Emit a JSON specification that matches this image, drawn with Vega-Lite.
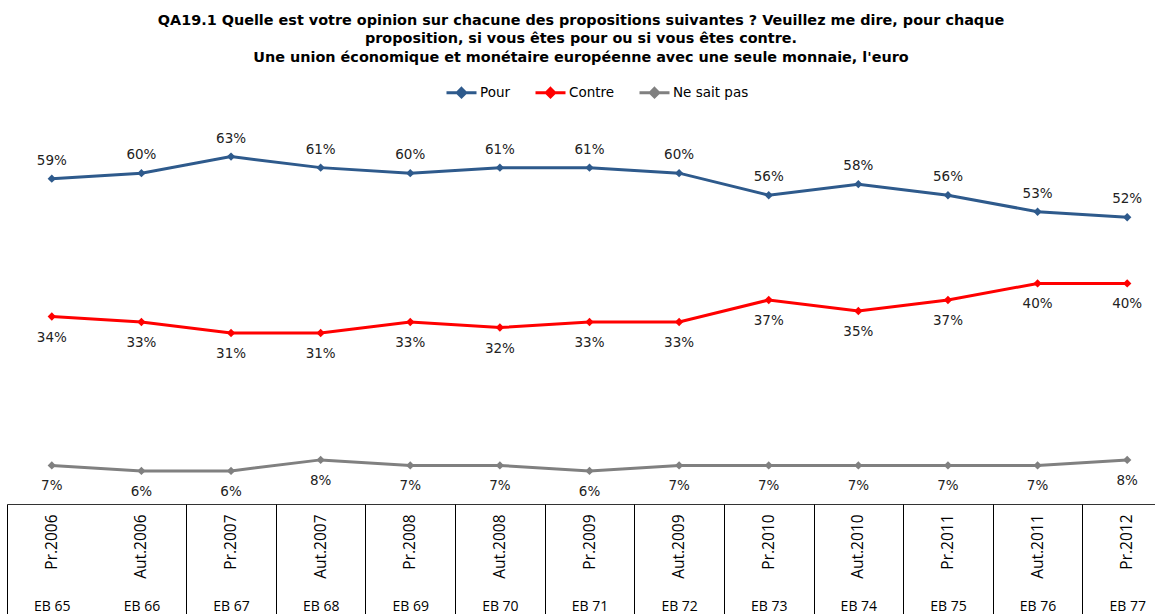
{
  "$schema": "https://vega.github.io/schema/vega-lite/v6.json",
  "width": 1148,
  "height": 386,
  "autosize": {"type": "none"},
  "padding": {"left": 7, "top": 118, "right": 0, "bottom": 110},
  "background": "white",
  "config": {"view": {"stroke": null}},
  "title": {
    "text": [
      "QA19.1 Quelle est votre opinion sur chacune des propositions suivantes ? Veuillez me dire, pour chaque",
      "proposition, si vous êtes pour ou si vous êtes contre.",
      "Une union économique et monétaire européenne avec une seule monnaie, l'euro"
    ],
    "font": "DejaVu Sans",
    "fontSize": 14.4,
    "fontWeight": "bold",
    "color": "#000000",
    "anchor": "middle",
    "lineHeight": 18.5,
    "offset": 11
  },
  "data": {
    "values": [
      {"k": "Pr.2006|EB 65", "s": "Pour", "v": 0.59},
      {"k": "Aut.2006|EB 66", "s": "Pour", "v": 0.60},
      {"k": "Pr.2007|EB 67", "s": "Pour", "v": 0.63},
      {"k": "Aut.2007|EB 68", "s": "Pour", "v": 0.61},
      {"k": "Pr.2008|EB 69", "s": "Pour", "v": 0.60},
      {"k": "Aut.2008|EB 70", "s": "Pour", "v": 0.61},
      {"k": "Pr.2009|EB 71", "s": "Pour", "v": 0.61},
      {"k": "Aut.2009|EB 72", "s": "Pour", "v": 0.60},
      {"k": "Pr.2010|EB 73", "s": "Pour", "v": 0.56},
      {"k": "Aut.2010|EB 74", "s": "Pour", "v": 0.58},
      {"k": "Pr.2011|EB 75", "s": "Pour", "v": 0.56},
      {"k": "Aut.2011|EB 76", "s": "Pour", "v": 0.53},
      {"k": "Pr.2012|EB 77", "s": "Pour", "v": 0.52},
      {"k": "Pr.2006|EB 65", "s": "Contre", "v": 0.34},
      {"k": "Aut.2006|EB 66", "s": "Contre", "v": 0.33},
      {"k": "Pr.2007|EB 67", "s": "Contre", "v": 0.31},
      {"k": "Aut.2007|EB 68", "s": "Contre", "v": 0.31},
      {"k": "Pr.2008|EB 69", "s": "Contre", "v": 0.33},
      {"k": "Aut.2008|EB 70", "s": "Contre", "v": 0.32},
      {"k": "Pr.2009|EB 71", "s": "Contre", "v": 0.33},
      {"k": "Aut.2009|EB 72", "s": "Contre", "v": 0.33},
      {"k": "Pr.2010|EB 73", "s": "Contre", "v": 0.37},
      {"k": "Aut.2010|EB 74", "s": "Contre", "v": 0.35},
      {"k": "Pr.2011|EB 75", "s": "Contre", "v": 0.37},
      {"k": "Aut.2011|EB 76", "s": "Contre", "v": 0.40},
      {"k": "Pr.2012|EB 77", "s": "Contre", "v": 0.40},
      {"k": "Pr.2006|EB 65", "s": "Ne sait pas", "v": 0.07},
      {"k": "Aut.2006|EB 66", "s": "Ne sait pas", "v": 0.06},
      {"k": "Pr.2007|EB 67", "s": "Ne sait pas", "v": 0.06},
      {"k": "Aut.2007|EB 68", "s": "Ne sait pas", "v": 0.08},
      {"k": "Pr.2008|EB 69", "s": "Ne sait pas", "v": 0.07},
      {"k": "Aut.2008|EB 70", "s": "Ne sait pas", "v": 0.07},
      {"k": "Pr.2009|EB 71", "s": "Ne sait pas", "v": 0.06},
      {"k": "Aut.2009|EB 72", "s": "Ne sait pas", "v": 0.07},
      {"k": "Pr.2010|EB 73", "s": "Ne sait pas", "v": 0.07},
      {"k": "Aut.2010|EB 74", "s": "Ne sait pas", "v": 0.07},
      {"k": "Pr.2011|EB 75", "s": "Ne sait pas", "v": 0.07},
      {"k": "Aut.2011|EB 76", "s": "Ne sait pas", "v": 0.07},
      {"k": "Pr.2012|EB 77", "s": "Ne sait pas", "v": 0.08}
    ]
  },
  "layer": [
    {
      "mark": {"type": "line", "strokeWidth": 3, "point": {"shape": "diamond", "size": 70, "filled": true}},
      "encoding": {
        "x": {
          "field": "k", "type": "nominal", "sort": null,
          "scale": {"type": "band", "range": [0, 1165], "paddingInner": 0, "paddingOuter": 0},
          "axis": {
            "title": null, "orient": "bottom", "domain": true, "domainColor": "#333333", "domainWidth": 1,
            "ticks": false, "tickSize": 0, "grid": false,
            "labelExpr": "split(datum.value, '|')[0]",
            "labelAngle": 270, "labelAlign": "right", "labelBaseline": "middle",
            "labelPadding": 10, "labelFont": "Open Sans", "labelFontSize": 15.5, "labelColor": "#000000",
            "labelOverlap": false, "labelBound": false
          }
        },
        "y": {"field": "v", "type": "quantitative", "scale": {"domain": [0, 0.7], "nice": false, "zero": true}, "axis": null},
        "color": {
          "field": "s", "type": "nominal",
          "scale": {"domain": ["Pour", "Contre", "Ne sait pas"], "range": ["#2E5A8C", "#FF0000", "#808080"]},
          "legend": {
            "title": null, "orient": "none", "direction": "horizontal",
            "legendX": 438, "legendY": -42,
            "symbolType": "M-1,0L1,0M0,-0.28L0.28,0L0,0.28L-0.28,0Z",
            "symbolSize": 900, "symbolStrokeWidth": 3,
            "labelFont": "DejaVu Sans", "labelFontSize": 13.5, "labelColor": "#000000",
            "labelOffset": 2, "columnPadding": 18,
            "encode": {"symbols": {"update": {"fill": {"scale": "color", "field": "value"}, "stroke": {"scale": "color", "field": "value"}}}}
          }
        }
      }
    },
    {
      "transform": [{"filter": "datum.s === 'Pour'"}],
      "mark": {"type": "text", "dy": -18, "font": "DejaVu Sans", "fontSize": 13.5, "color": "#222222", "baseline": "middle"},
      "encoding": {
        "x": {
          "field": "k", "type": "nominal", "sort": null,
          "scale": {"type": "band", "range": [0, 1165], "paddingInner": 0, "paddingOuter": 0},
          "axis": {
            "title": null, "orient": "bottom", "domain": false, "grid": false,
            "ticks": true, "tickBand": "extent", "tickSize": 110, "tickWidth": 1,
            "tickColor": {"condition": {"test": "datum.value === 'Pr.2006|EB 65' && !datum.extra", "value": "transparent"}, "value": "#000000"},
            "labelExpr": "split(datum.value, '|')[1]",
            "labelAngle": 0, "labelAlign": "center", "labelBaseline": "alphabetic",
            "labelPadding": -4, "labelFont": "Open Sans", "labelFontSize": 14, "labelColor": "#000000",
            "labelOverlap": false, "labelBound": false
          }
        },
        "y": {"field": "v", "type": "quantitative", "scale": {"domain": [0, 0.7], "nice": false, "zero": true}, "axis": null},
        "text": {"field": "v", "type": "quantitative", "format": ".0%"}
      }
    },
    {
      "transform": [{"filter": "datum.s !== 'Pour'"}],
      "mark": {"type": "text", "dy": 21, "font": "DejaVu Sans", "fontSize": 13.5, "color": "#222222", "baseline": "middle"},
      "encoding": {
        "x": {
          "field": "k", "type": "nominal", "sort": null,
          "scale": {"type": "band", "range": [0, 1165], "paddingInner": 0, "paddingOuter": 0},
          "axis": null
        },
        "y": {"field": "v", "type": "quantitative", "scale": {"domain": [0, 0.7], "nice": false, "zero": true}, "axis": null},
        "text": {"field": "v", "type": "quantitative", "format": ".0%"}
      }
    }
  ],
  "resolve": {"axis": {"x": "independent"}}
}
